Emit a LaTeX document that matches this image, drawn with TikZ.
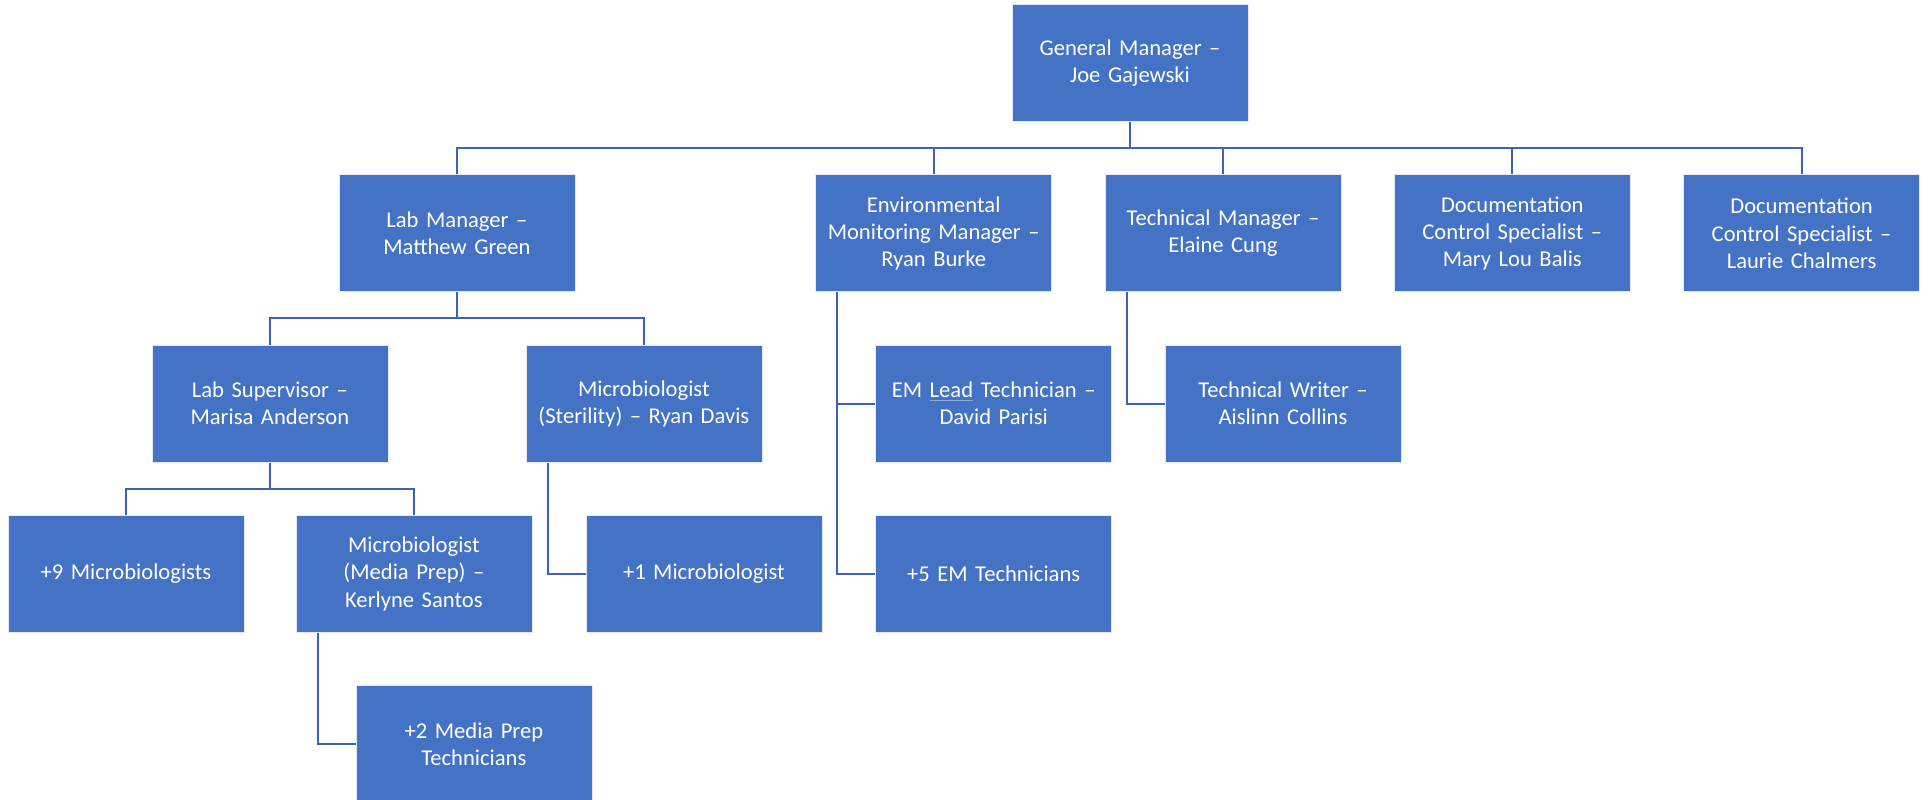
\documentclass[tikz,border=0pt]{standalone}
\usepackage{fontspec}
\setmainfont{Carlito}
\usepackage{xcolor}
\usepackage{tikz}
\usetikzlibrary{positioning,calc}

\definecolor{boxblue}{HTML}{4472C4}
\definecolor{lineblue}{HTML}{3B64AE}
\definecolor{spellblue}{HTML}{8FAADC}

\begin{document}
\begin{tikzpicture}[auto, node distance=26.25pt, x=1pt, y=1pt]
\tikzset{
block/.style    = {draw=white!85!boxblue, line width=0.4pt, shape=rectangle, fill=boxblue, text=white, font=\fontsize{11.3}{13.6}\selectfont, minimum height=58.5pt, minimum width=118pt, text width=114pt, align=center, inner sep=0pt},
link/.style     = {draw=lineblue, line width=1pt},
}
    \useasboundingbox (0,0) rectangle (964.5,-399.5);

    % Top
    \node [block] (gm) at (565,-31.5) {General Manager --\\Joe Gajewski};

    % Second row
    \node [block, below=of gm, xshift=46.5pt] (tm)  {Technical Manager --\\Elaine Cung};
    \node [block, left=of tm]                 (em)  {Environmental\\Monitoring Manager --\\Ryan Burke};
    \node [block, right=of tm]                (dc1) {Documentation\\Control Specialist --\\Mary Lou Balis};
    \node [block, right=of dc1]               (dc2) {Documentation\\Control Specialist --\\Laurie Chalmers};
    \node [block, left=120pt of em]           (lm)  {Lab Manager --\\Matthew Green};

    % Third row
    \node [block, below=of lm, xshift=-93.5pt] (ls)  {Lab Supervisor --\\Marisa Anderson};
    \node [block, below=of lm, xshift=93.5pt]  (ms)  {Microbiologist\\(Sterility) -- Ryan Davis};
    \node [block, below=of em, xshift=30pt]    (eml) {EM {\color{spellblue}\underline{\color{white}Lead}} Technician --\\David Parisi};
    \node [block, below=of tm, xshift=30pt]    (tw)  {Technical Writer --\\Aislinn Collins};

    % Fourth row
    \node [block, below=of ls, xshift=-72pt]   (mb9) {+9 Microbiologists};
    \node [block, below=of ls, xshift=72pt]    (mmp) {Microbiologist\\(Media Prep) --\\Kerlyne Santos};
    \node [block, below=of ms, xshift=30pt]    (mb1) {+1 Microbiologist};
    \node [block, below=of eml]                (emt) {+5 EM Technicians};

    % Fifth row
    \node [block, below=of mmp, xshift=30pt]   (mpt) {+2 Media Prep\\Technicians};

    % Tree edges
    \foreach \c in {lm,em,tm,dc1,dc2}
        \draw [link] (gm.south) -- ++(0,-13.125pt) -| (\c.north);
    \foreach \c in {ls,ms}
        \draw [link] (lm.south) -- ++(0,-13.125pt) -| (\c.north);
    \foreach \c in {mb9,mmp}
        \draw [link] (ls.south) -- ++(0,-13.125pt) -| (\c.north);

    % Side edges
    \draw [link] ([xshift=11pt]em.south west)  |- (eml.west);
    \draw [link] ([xshift=11pt]em.south west)  |- (emt.west);
    \draw [link] ([xshift=11pt]tm.south west)  |- (tw.west);
    \draw [link] ([xshift=11pt]ms.south west)  |- (mb1.west);
    \draw [link] ([xshift=11pt]mmp.south west) |- (mpt.west);

\end{tikzpicture}
\end{document}
